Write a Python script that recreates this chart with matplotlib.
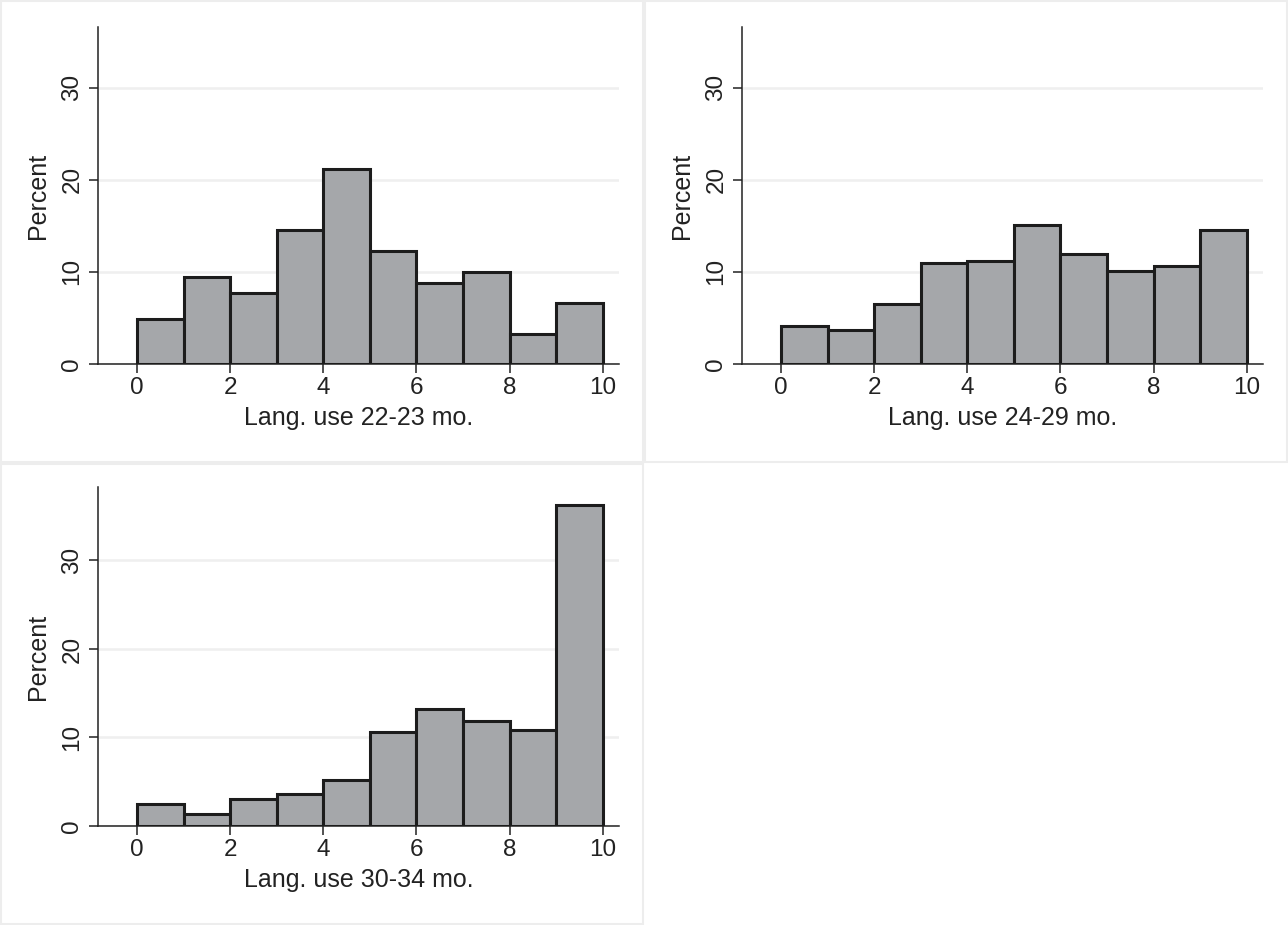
import numpy as np
import matplotlib
matplotlib.use('Agg')
import matplotlib.pyplot as plt
from matplotlib.patches import Rectangle

plt.rcParams['font.family'] = ['Liberation Sans', 'DejaVu Sans']

# bin edges 0..10, width 1
bin_edges = np.arange(0, 11, 1)

# percent in each bin
pct_22_23 = [4.9, 9.45, 7.75, 14.5, 21.2, 12.25, 8.85, 10.0, 3.3, 6.65]
pct_24_29 = [4.1, 3.7, 6.55, 11.0, 11.2, 15.15, 11.9, 10.1, 10.65, 14.5]
pct_30_34 = [2.45, 1.3, 3.1, 3.6, 5.25, 10.65, 13.25, 11.85, 10.9, 36.3]

titles = ['Lang. use 22-23 mo.', 'Lang. use 24-29 mo.', 'Lang. use 30-34 mo.']
y_ticks = [0, 10, 20, 30]
x_ticks = [0, 2, 4, 6, 8, 10]

W, H = 1288, 925
fig = plt.figure(figsize=(W / 100, H / 100), dpi=100)
fig.patch.set_facecolor('white')

# panel frames (light borders around each cell)
cells = [(1, 1, 642, 461), (645, 1, 642, 461), (1, 464, 642, 460)]
for cx, cy, cw, ch in cells:
    fig.add_artist(Rectangle((cx / W, 1 - (cy + ch) / H), cw / W, ch / H,
                             transform=fig.transFigure, fill=False,
                             edgecolor='#ededed', linewidth=1.5))

# axes boxes in pixel coords: left, top, right, bottom
boxes = [(98, 27, 619, 364), (742, 27, 1263, 364), (98, 487, 619, 826)]
ytops = [36.6, 36.6, 38.3]
data = [pct_22_23, pct_24_29, pct_30_34]

for (l, t, r, b), vals, title, ytop in zip(boxes, data, titles, ytops):
    ax = fig.add_axes([l / W, 1 - b / H, (r - l) / W, (b - t) / H])
    ax.bar(bin_edges[:-1], vals, width=1, align='edge', color='#a5a7aa',
           edgecolor='#1c1c1c', linewidth=2.2, zorder=3)
    ax.set_xlim(-0.84, 10.35)
    ax.set_ylim(0, ytop)
    ax.set_xticks(x_ticks)
    ax.set_yticks(y_ticks)
    ax.yaxis.grid(True, color='#efefef', linewidth=1.8, zorder=0)
    ax.set_axisbelow(True)
    for s in ['top', 'right']:
        ax.spines[s].set_visible(False)
    for s in ['left', 'bottom']:
        ax.spines[s].set_color('#222222')
        ax.spines[s].set_linewidth(1.1)
    ax.tick_params(axis='both', direction='out', length=6.5, width=1.1,
                   color='#222222', labelsize=17.5, labelcolor='#222222')
    ax.tick_params(axis='x', pad=3)
    ax.tick_params(axis='y', pad=4)
    for lab in ax.get_yticklabels():
        lab.set_rotation(90)
        lab.set_va('center')
    ax.set_xlabel(title, fontsize=18, color='#222222', labelpad=5)
    ax.set_ylabel('Percent', fontsize=18, color='#222222', labelpad=8)

fig.savefig('out.png', dpi=100, facecolor='white')
